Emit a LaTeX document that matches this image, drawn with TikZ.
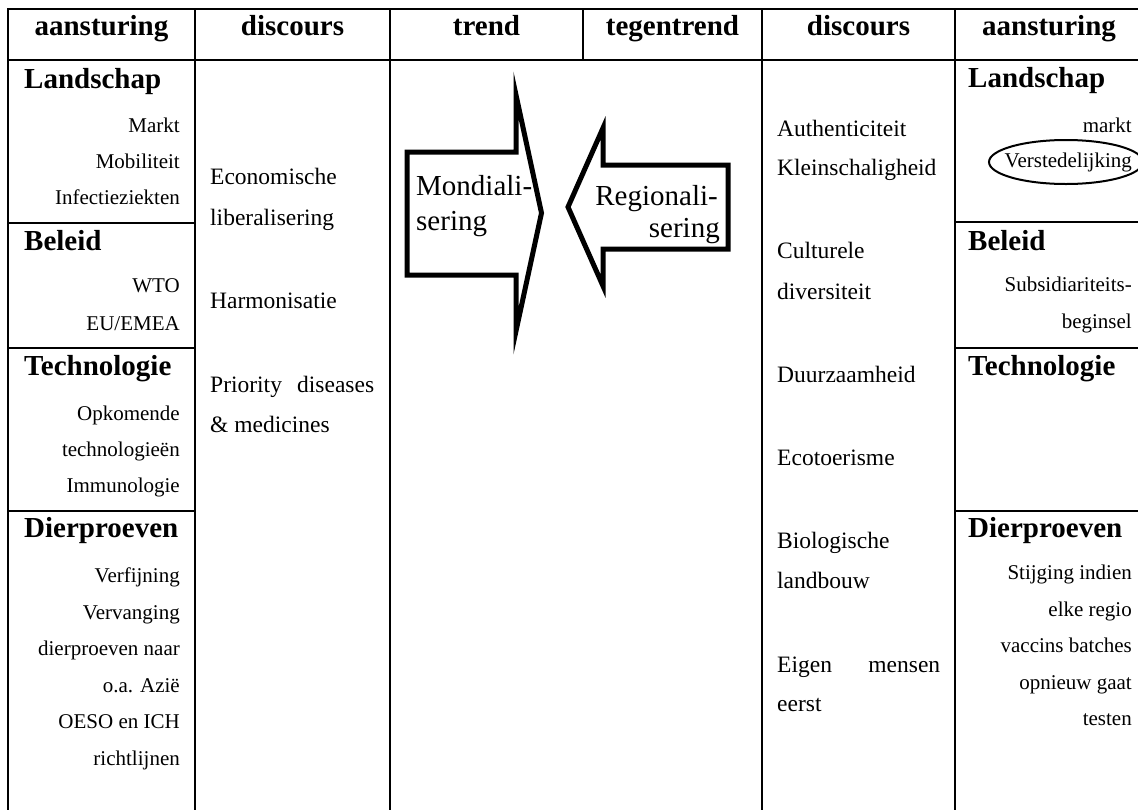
\documentclass[tikz,border=0pt]{standalone}
\usepackage{fontspec}
\setmainfont{Liberation Serif}
\begin{document}
\begin{tikzpicture}[x=1pt,y=-1pt,
  rule/.style={line width=2.6pt},
  colhead/.style={font=\fontsize{29}{29}\selectfont\bfseries, anchor=base, inner sep=0pt},
  section/.style={font=\fontsize{29}{29}\selectfont\bfseries, anchor=base west, inner sep=0pt},
  item/.style={font=\fontsize{21}{21}\selectfont, anchor=base east, inner sep=0pt},
  disc/.style={font=\fontsize{23.5}{23.5}\selectfont, anchor=base west, inner sep=0pt},
  bigarrow/.style={line width=5pt, line join=miter, miter limit=10},
  arrowtext/.style={font=\fontsize{29}{29}\selectfont, inner sep=0pt}]
\useasboundingbox (0,0) rectangle (1138,809);
\clip (0,0) rectangle (1138,809);

% table rules
\draw[rule] (8,820) -- (8,9) -- (1160,9);
\draw[rule] (8,60) -- (1160,60);
\foreach \x in {195,390,762,955} \draw[rule] (\x,9) -- (\x,820);
\draw[rule] (583,9) -- (583,60);
\foreach \y in {223,348,511} \draw[rule] (8,\y) -- (195,\y);
\foreach \y in {222,348,511} \draw[rule] (955,\y) -- (1160,\y);

% column headings
\node[colhead] (hA1) at (101.5,35) {aansturing};
\node[colhead] (hD1) at (292.5,35) {discours};
\node[colhead] (hT)  at (486.5,35) {trend};
\node[colhead] (hTT) at (672.5,35) {tegentrend};
\node[colhead] (hD2) at (858.5,35) {discours};
\node[colhead] (hA2) at (1049,35) {aansturing};

% left steering column
\node[section] (lLand) at (24,88) {Landschap};
\node[item] (l1) at (180,132) {Markt};
\node[item] (l2) at (180,168) {Mobiliteit};
\node[item] (l3) at (180,204) {Infectieziekten};
\node[section] (lBel) at (24,250) {Beleid};
\node[item] (l4) at (180,292) {WTO};
\node[item] (l5) at (180,330) {EU/EMEA};
\node[section] (lTech) at (24,375) {Technologie};
\node[item] (l6) at (180,420) {Opkomende};
\node[item] (l7) at (180,456) {technologieën};
\node[item] (l8) at (180,492) {Immunologie};
\node[section] (lDier) at (24,537) {Dierproeven};
\node[item] (l9)  at (180,582) {Verfijning};
\node[item] (l10) at (180,619) {Vervanging};
\node[item] (l11) at (180,655) {dierproeven naar};
\node[item] (l12) at (180,692) {o.a. Azië};
\node[item] (l13) at (180,728) {OESO en ICH};
\node[item] (l14) at (180,765) {richtlijnen};

% left discourse column
\node[disc] (d1) at (210,184) {Economische};
\node[disc] (d2) at (210,225) {liberalisering};
\node[disc] (d3) at (210,308) {Harmonisatie};
\node[disc] (d4) at (210,392) {\makebox[164pt][s]{Priority diseases}};
\node[disc] (d5) at (210,432) {\& medicines};

% trend and counter-trend arrows
\draw[bigarrow] (407,152) -- (516,152) -- (516,95) -- (541.5,213) -- (516,331) -- (516,275) -- (407,275) -- cycle;
\draw[bigarrow] (728,165) -- (603,165) -- (603,128) -- (568,207) -- (603,286) -- (603,249) -- (728,249) -- cycle;
\node[arrowtext, anchor=base west] (m1) at (416,195) {Mondiali-};
\node[arrowtext, anchor=base west] (m2) at (416,230) {sering};
\node[arrowtext, anchor=base east] (r1) at (718,205) {Regionali-};
\node[arrowtext, anchor=base east] (r2) at (720,237) {sering};

% right discourse column
\node[disc] (e1) at (777,136) {Authenticiteit};
\node[disc] (e2) at (777,175) {Kleinschaligheid};
\node[disc] (e3) at (777,258) {Culturele};
\node[disc] (e4) at (777,299) {diversiteit};
\node[disc] (e5) at (777,382) {Duurzaamheid};
\node[disc] (e6) at (777,465) {Ecotoerisme};
\node[disc] (e7) at (777,548) {Biologische};
\node[disc] (e8) at (777,588) {landbouw};
\node[disc] (e9) at (777,672) {\makebox[163pt][s]{Eigen mensen}};
\node[disc] (e10) at (777,711) {eerst};

% right steering column
\node[section] (rLand) at (968,87) {Landschap};
\node[item] (s1) at (1132,132) {markt};
\node[item] (s2) at (1132,167) {Verstedelijking};
\draw[line width=2pt] (1066,162) ellipse [x radius=77pt, y radius=22pt];
\node[section] (rBel) at (968,250) {Beleid};
\node[item] (s3) at (1132,291) {Subsidiariteits-};
\node[item] (s4) at (1132,328) {beginsel};
\node[section] (rTech) at (968,375) {Technologie};
\node[section] (rDier) at (968,537) {Dierproeven};
\node[item] (s5) at (1132,579) {Stijging indien};
\node[item] (s6) at (1132,616) {elke regio};
\node[item] (s7) at (1132,652) {vaccins batches};
\node[item] (s8) at (1132,689) {opnieuw gaat};
\node[item] (s9) at (1132,725) {testen};
\end{tikzpicture}
\end{document}
